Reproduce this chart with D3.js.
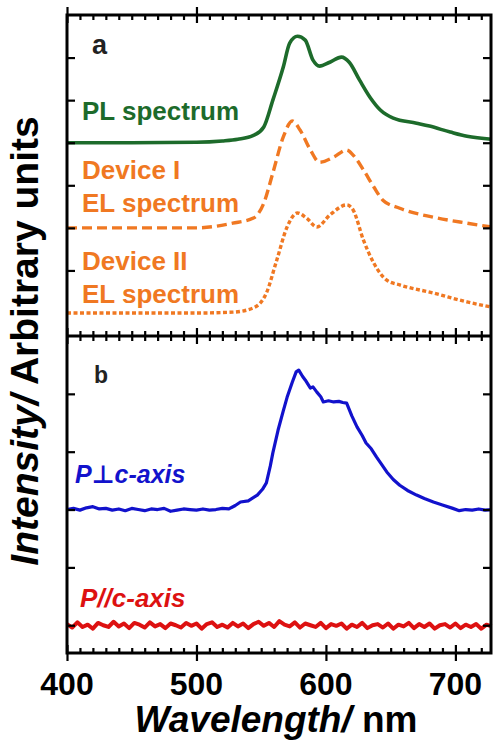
<!DOCTYPE html>
<html>
<head>
<meta charset="utf-8">
<script src="https://cdn.jsdelivr.net/npm/d3@7"></script>
<style>
  body { margin: 0; background: #fff; }
  text { font-family: "Liberation Sans", Arial, "DejaVu Sans", sans-serif; font-weight: bold; }
</style>
</head>
<body>
<div id="graph"></div>
<script>
var svgWidth = 493;
var svgHeight = 740;

// panel a : PL and two EL spectra (offset stacked, arbitrary units)
var plWl  = [400, 450, 500, 520, 532, 544, 552, 559, 567, 572, 578, 584, 590, 595, 603, 612, 618, 626, 634, 642, 652, 670, 680, 696, 709, 728];
var plVal = [4.0, 4.0, 4.01, 4.04, 4.08, 4.17, 4.37, 5.0, 5.77, 6.34, 6.5, 6.41, 5.94, 5.80, 5.89, 6.01, 5.89, 5.47, 5.07, 4.77, 4.58, 4.46, 4.39, 4.25, 4.15, 4.08];

var dev1Wl  = [400, 450, 500, 528, 544, 552, 559, 567, 574, 580, 588, 595, 606, 616, 621, 629, 637, 644, 657, 683, 709, 728];
var dev1Val = [2.0, 2.0, 2.0, 2.11, 2.23, 2.58, 3.29, 4.13, 4.51, 4.30, 3.83, 3.54, 3.66, 3.83, 3.71, 3.36, 2.96, 2.65, 2.46, 2.25, 2.11, 2.02];

var dev2Wl  = [400, 450, 500, 528, 544, 554, 562, 570, 578, 585, 593, 603, 616, 621, 629, 637, 647, 657, 683, 709, 728];
var dev2Val = [0.0, 0.0, 0.0, 0.02, 0.12, 0.47, 1.24, 2.02, 2.35, 2.23, 2.02, 2.30, 2.54, 2.42, 1.71, 1.17, 0.77, 0.66, 0.47, 0.26, 0.14];

// panel b : polarised emission
var perpWl  = [400, 405, 410, 415, 420, 425, 430, 435, 440, 445, 450, 455, 460, 465, 470, 475, 480, 485, 490, 495,
               500, 505, 510, 515, 520, 525, 530, 534, 540, 547, 551, 554, 557, 559, 563, 567, 570, 574, 577, 579,
               582, 584, 588, 590, 593, 596, 598, 602, 606, 610, 613, 616, 620, 624, 628, 631, 635, 639, 643, 647,
               652, 657, 663, 670, 676, 683, 690, 698, 703, 708, 713, 718, 723, 728];
var perpVal = [2.00, 2.02, 1.99, 2.03, 2.05, 2.01, 2.02, 1.99, 2.01, 1.98, 2.02, 2.00, 1.98, 2.01, 2.00, 2.02, 1.97, 1.99, 2.01, 2.00,
               1.99, 2.01, 1.99, 2.00, 2.02, 2.01, 2.07, 2.13, 2.15, 2.25, 2.35, 2.46, 2.75, 2.98, 3.37, 3.70, 3.94, 4.20, 4.38, 4.41,
               4.30, 4.24, 4.10, 4.12, 4.03, 3.95, 3.86, 3.88, 3.86, 3.87, 3.85, 3.84, 3.62, 3.43, 3.28, 3.15, 3.05, 2.91, 2.78, 2.65,
               2.52, 2.42, 2.33, 2.25, 2.19, 2.13, 2.08, 2.02, 1.98, 2.00, 1.99, 2.01, 1.99, 2.00];

var parWl  = [400, 404, 408, 412, 416, 420, 424, 428, 432, 436, 440, 444, 448, 452, 456, 460, 464, 468, 472, 476,
              480, 484, 488, 492, 496, 500, 504, 508, 512, 516, 520, 524, 528, 532, 536, 540, 544, 548, 552, 556,
              560, 564, 568, 572, 576, 580, 584, 588, 592, 596, 600, 604, 608, 612, 616, 620, 624, 628, 632, 636,
              640, 644, 648, 652, 656, 660, 664, 668, 672, 676, 680, 684, 688, 692, 696, 700, 704, 708, 712, 716,
              720, 724, 728];
var parVal = [0.02, -0.04, 0.05, -0.03, 0.01, -0.06, 0.04, 0.00, -0.03, 0.06,
              -0.02, 0.03, -0.05, 0.04, 0.01, -0.04, 0.05, -0.02, 0.02, -0.05,
              0.03, 0.00, -0.04, 0.04, -0.01, 0.03, -0.06, 0.02, 0.05, -0.03,
              0.01, -0.04, 0.04, -0.02, 0.03, -0.05, 0.02, 0.06, -0.01, 0.04,
              -0.03, 0.07, 0.01, -0.02, 0.05, -0.04, 0.03, 0.00, -0.03, 0.04,
              -0.05, 0.02, -0.01, 0.03, -0.06, 0.01, -0.03, 0.04, -0.05, 0.00,
              0.02, -0.04, 0.03, -0.06, 0.01, -0.02, 0.04, -0.05, 0.02, -0.03,
              0.03, -0.06, 0.00, 0.02, -0.04, 0.03, -0.05, 0.01, -0.03, 0.02,
              -0.06, 0.01, -0.02];

var xMajor = [400, 500, 600, 700];
var xMinor = d3.range(410, 730, 10).filter(v => v % 100 != 0);
var yTicksA = [1, 2, 3, 4, 5, 6];
var yTicksB = [0, 1, 2, 3, 4];

var green = "#1d6b2b", orange = "#f07822", blue = "#1212cc", red = "#dd1111";

var svg = d3.select("#graph")
	.append("svg")
	.attr("width", svgWidth)
	.attr("height", svgHeight);

var left = 67, right = 491, topA = 15, mid = 336, botB = 653;

var x = d3.scaleLinear().domain([400, 727.5]).range([left, right]);
var yA = d3.scaleLinear().domain([-0.54, 7]).range([mid, topA]);
var yB = d3.scaleLinear().domain([-0.48, 5]).range([botB, mid]);

function zip(a, b) { return a.map((v, i) => [v, b[i]]); }

function drawLine(yScale, wl, vals, color, width, dash, curve) {
	var line = d3.line()
		.x(d => x(d[0]))
		.y(d => yScale(d[1]))
		.curve(curve);
	svg.append("path")
		.datum(zip(wl, vals))
		.attr("d", line)
		.attr("fill", "none")
		.attr("stroke", color)
		.attr("stroke-width", width)
		.attr("stroke-dasharray", dash)
		.attr("stroke-linejoin", "round");
}

drawLine(yA, plWl, plVal, green, 3.6, null, d3.curveMonotoneX);
drawLine(yA, dev1Wl, dev1Val, orange, 3.4, "10,5", d3.curveMonotoneX);
drawLine(yA, dev2Wl, dev2Val, orange, 3.4, "4,2.5", d3.curveMonotoneX);
drawLine(yB, perpWl, perpVal, blue, 3.2, null, d3.curveLinear);
drawLine(yB, parWl, parVal, red, 4, null, d3.curveLinear);

// x ticks on the three horizontal lines
function xTicks(yPos, minorUp, minorDown) {
	var g = svg.append("g").attr("transform", "translate(0," + yPos + ")");
	g.call(d3.axisBottom(x).tickValues(xMajor).tickSize(8).tickFormat(""));
	g.append("g").call(d3.axisTop(x).tickValues(xMajor).tickSize(8).tickFormat(""));
	if (minorDown) g.append("g").call(d3.axisBottom(x).tickValues(xMinor).tickSize(minorDown).tickFormat(""));
	if (minorUp) g.append("g").call(d3.axisTop(x).tickValues(xMinor).tickSize(minorUp).tickFormat(""));
	g.selectAll(".domain").remove();
	g.selectAll("line").attr("stroke", "#000").attr("stroke-width", 2.2);
}
xTicks(topA, 0, 5);
xTicks(mid, 5, 5);
xTicks(botB, 5, 0);

function yTicks(scale, vals) {
	var gl = svg.append("g").attr("transform", "translate(" + left + ",0)")
		.call(d3.axisRight(scale).tickValues(vals).tickSize(8).tickFormat(""));
	var gr = svg.append("g").attr("transform", "translate(" + right + ",0)")
		.call(d3.axisLeft(scale).tickValues(vals).tickSize(8).tickFormat(""));
	[gl, gr].forEach(g => {
		g.selectAll(".domain").remove();
		g.selectAll("line").attr("stroke", "#000").attr("stroke-width", 2.2);
	});
}
yTicks(yA, yTicksA);
yTicks(yB, yTicksB);

// frame
svg.append("rect")
	.attr("x", left).attr("y", topA)
	.attr("width", right - left).attr("height", botB - topA)
	.attr("fill", "none").attr("stroke", "#000").attr("stroke-width", 3);
svg.append("line")
	.attr("x1", left).attr("x2", right).attr("y1", mid).attr("y2", mid)
	.attr("stroke", "#000").attr("stroke-width", 3);

// x tick labels
svg.selectAll(".xlab")
	.data(xMajor)
	.enter()
	.append("text")
	.attr("x", d => x(d))
	.attr("y", 695)
	.attr("text-anchor", "middle")
	.style("font-size", "32px")
	.text(d => d);

var xTitle = svg.append("text")
	.attr("x", 276).attr("y", 732)
	.attr("text-anchor", "middle")
	.style("font-size", "37px");
xTitle.append("tspan").style("font-style", "italic").text("Wavelength/");
xTitle.append("tspan").text(" nm");

var yTitle = svg.append("text")
	.attr("transform", "translate(38,341) rotate(-90)")
	.attr("text-anchor", "middle")
	.style("font-size", "39px");
yTitle.append("tspan").style("font-style", "italic").text("Intensity/");
yTitle.append("tspan").text(" Arbitrary units");

function label(txt, lx, ly, color, size, italic) {
	svg.append("text")
		.attr("x", lx).attr("y", ly)
		.style("font-size", size + "px")
		.style("font-style", italic ? "italic" : "normal")
		.attr("fill", color)
		.text(txt);
}
label("a", 92, 54, "#222", 27);
label("b", 94, 383, "#222", 23);
label("PL spectrum", 82, 120, green, 26);
label("Device I", 82, 179, orange, 26);
label("EL spectrum", 82, 212, orange, 26);
label("Device II", 82, 270, orange, 26);
label("EL spectrum", 82, 303, orange, 26);
label("P\u22A5c-axis", 75, 483, blue, 25, true);
label("P//c-axis", 80, 607, red, 26, true);
</script>
</body>
</html>
